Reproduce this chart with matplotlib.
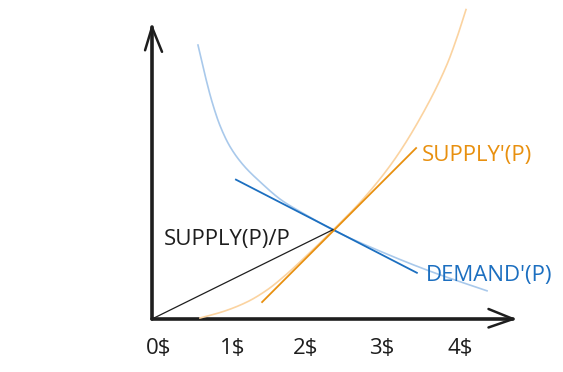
import numpy as np
import matplotlib
matplotlib.use("Agg")
import matplotlib.pyplot as plt

# ---- data (price units on x, quantity units on y) ----
demand_x = [0.597, 0.688, 0.779, 0.883, 1.013, 1.182, 1.403, 1.688, 1.987, 2.351, 2.961, 3.610, 4.351]
demand_y = [3.558, 3.169, 2.823, 2.512, 2.239, 2.003, 1.782, 1.539, 1.360, 1.156, 0.881, 0.621, 0.366]

supply_x = [0.623, 0.922, 1.234, 1.494, 1.727, 1.987, 2.351, 2.740, 3.130, 3.481, 3.831, 3.961, 4.078]
supply_y = [0.013, 0.096, 0.221, 0.377, 0.564, 0.803, 1.156, 1.557, 2.044, 2.605, 3.306, 3.657, 4.019]

demand_tangent_x = [1.09, 3.44]
demand_tangent_y = [1.81, 0.60]

supply_tangent_x = [1.43, 3.43]
supply_tangent_y = [0.22, 2.22]

ratio_x = [0.0, 2.35]
ratio_y = [0.0, 1.16]

tick_positions = [0.09, 1.05, 1.99, 2.98, 4.00]
tick_labels = ["0$", "1$", "2$", "3$", "4$"]

x_axis_end = 4.69
y_axis_end = 3.79

fig = plt.figure(figsize=(5.63, 3.72), dpi=100)
ax = fig.add_axes([0, 0, 1, 1])
ax.set_xlim(-152 / 77, (563 - 152) / 77)
ax.set_ylim((319 - 372) / 77, 319 / 77)
ax.axis("off")

light_blue = "#a9c9eb"
dark_blue = "#1c6fc0"
light_orange = "#fbd3a0"
dark_orange = "#e8900f"
ink = "#1e1e1e"

# axes
ax.plot([0, x_axis_end], [0, 0], color=ink, lw=2.6, solid_capstyle="round")
ax.plot([0, 0], [0, y_axis_end], color=ink, lw=2.6, solid_capstyle="round")
# arrow heads
ax.plot([x_axis_end - 0.32, x_axis_end, x_axis_end - 0.32],
        [0.13, 0.0, -0.11], color=ink, lw=1.8, solid_capstyle="round",
        solid_joinstyle="round")
ax.plot([-0.09, 0.0, 0.13], [y_axis_end - 0.30, y_axis_end, y_axis_end - 0.32],
        color=ink, lw=1.8, solid_capstyle="round", solid_joinstyle="round")


def pchip(xs, ys, n=400):
    """Monotone piecewise-cubic interpolation of the read points."""
    x = np.asarray(xs, float)
    y = np.asarray(ys, float)
    h = np.diff(x)
    d = np.diff(y) / h
    m = np.zeros_like(x)
    for k in range(1, len(x) - 1):
        if d[k - 1] * d[k] > 0:
            w1 = 2 * h[k] + h[k - 1]
            w2 = h[k] + 2 * h[k - 1]
            m[k] = (w1 + w2) / (w1 / d[k - 1] + w2 / d[k])
    m[0] = d[0]
    m[-1] = d[-1]
    xx = np.linspace(x[0], x[-1], n)
    yy = np.empty_like(xx)
    for i, u in enumerate(xx):
        k = min(np.searchsorted(x, u, side="right") - 1, len(x) - 2)
        s = (u - x[k]) / h[k]
        yy[i] = ((2 * s**3 - 3 * s**2 + 1) * y[k] + (s**3 - 2 * s**2 + s) * h[k] * m[k]
                 + (-2 * s**3 + 3 * s**2) * y[k + 1] + (s**3 - s**2) * h[k] * m[k + 1])
    return xx, yy


dx, dy = pchip(demand_x, demand_y)
ax.plot(dx, dy, color=light_blue, lw=1.2)
sx, sy = pchip(supply_x, supply_y)
ax.plot(sx, sy, color=light_orange, lw=1.2)

ax.plot(demand_tangent_x, demand_tangent_y, color=dark_blue, lw=1.3)
ax.plot(supply_tangent_x, supply_tangent_y, color=dark_orange, lw=1.3)
ax.plot(ratio_x, ratio_y, color=ink, lw=0.9)

font = ["Open Sans", "DejaVu Sans"]
fs = 16
for v, lab in zip(tick_positions, tick_labels):
    ax.text(v, -0.38, lab, ha="center", va="center", fontsize=fs,
            color=ink, family=font)

ax.text((422 - 152) / 77, (319 - 156) / 77, "SUPPLY'(P)", ha="left", va="center",
        fontsize=fs, color=dark_orange, family=font)
ax.text((426 - 152) / 77, (319 - 275) / 77, "DEMAND'(P)", ha="left", va="center",
        fontsize=fs, color=dark_blue, family=font)
ax.text((164 - 152) / 77, (319 - 240) / 77, "SUPPLY(P)/P", ha="left", va="center",
        fontsize=fs, color=ink, family=font)

fig.savefig("out.png", dpi=100)
